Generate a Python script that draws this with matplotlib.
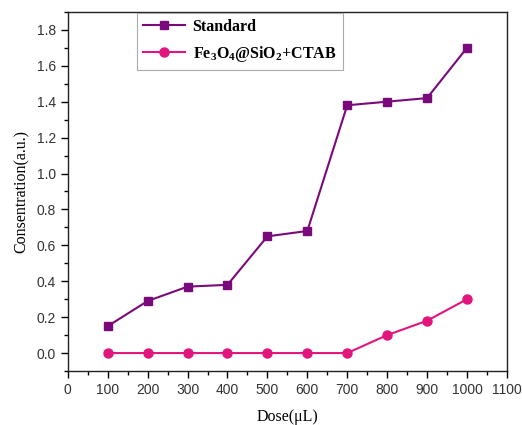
import matplotlib
matplotlib.use('Agg')
import matplotlib.pyplot as plt
from matplotlib.ticker import MultipleLocator

# data
dose = [100, 200, 300, 400, 500, 600, 700, 800, 900, 1000]
standard = [0.15, 0.29, 0.37, 0.38, 0.65, 0.68, 1.38, 1.40, 1.42, 1.70]
fe3o4 = [0.0, 0.0, 0.0, 0.0, 0.0, 0.0, 0.0, 0.10, 0.18, 0.30]
xticks = list(range(0, 1101, 100))
yticks = [0.0, 0.2, 0.4, 0.6, 0.8, 1.0, 1.2, 1.4, 1.6, 1.8]

plt.rcParams['mathtext.fontset'] = 'custom'
plt.rcParams['mathtext.rm'] = 'Liberation Serif:bold'
plt.rcParams['mathtext.it'] = 'Liberation Serif:bold'
plt.rcParams['mathtext.bf'] = 'Liberation Serif:bold'

purple = '#7a0a7c'
pink = '#e2157c'

fig = plt.figure(figsize=(5.22, 4.25), dpi=100)
ax = fig.add_axes([0.130, 0.127, 0.841, 0.845])

ax.plot(dose, standard, color=purple, marker='s', markersize=6, lw=1.5, label='Standard')
ax.plot(dose, fe3o4, color=pink, marker='o', markersize=6.5, lw=1.5,
        label='Fe$_3$O$_4$@SiO$_2$+CTAB')

ax.set_xlim(0, 1100)
ax.set_ylim(-0.1, 1.9)
ax.set_xticks(xticks)
ax.set_yticks(yticks)
ax.set_yticklabels(['%.1f' % v for v in yticks])
ax.xaxis.set_minor_locator(MultipleLocator(50))
ax.yaxis.set_minor_locator(MultipleLocator(0.1))
ax.tick_params(which='major', direction='out', length=5, width=1, labelsize=10,
               labelcolor='#333333', top=False, right=False)
ax.tick_params(which='minor', direction='out', length=3, width=1, top=False, right=False)
for lab in ax.get_xticklabels() + ax.get_yticklabels():
    lab.set_family('Liberation Sans')
for sp in ax.spines.values():
    sp.set_linewidth(1.0)
    sp.set_color('#222222')

ax.set_xlabel('Dose(μL)', family='Liberation Serif', fontsize=11.5, labelpad=9)
ax.set_ylabel('Consentration(a.u.)', family='Liberation Serif', fontsize=11.5, labelpad=5)

leg = ax.legend(loc='upper left', bbox_to_anchor=(0.157, 0.998), borderaxespad=0,
                prop={'family': 'Liberation Serif', 'weight': 'bold', 'size': 11.5},
                fancybox=False, framealpha=1, edgecolor='#aaaaaa',
                handlelength=2.6, handletextpad=0.5, borderpad=0.4, labelspacing=0.55)
leg.get_frame().set_linewidth(0.8)

plt.savefig('out.png', dpi=100)
